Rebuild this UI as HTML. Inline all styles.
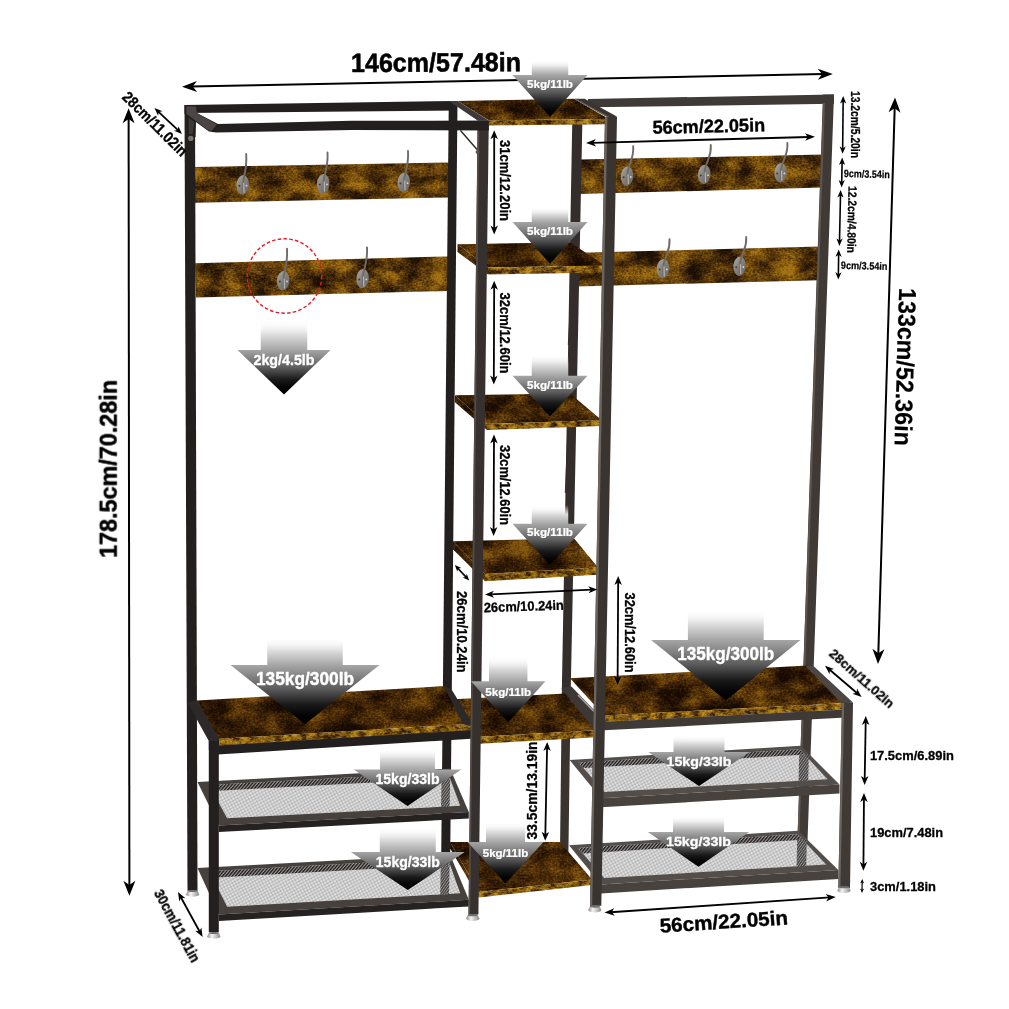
<!DOCTYPE html>
<html lang="en"><head><meta charset="utf-8"><title>Coat rack dimensions</title>
<style>html,body{margin:0;padding:0;background:#fff}svg{display:block}text{font-family:"Liberation Sans", "DejaVu Sans", sans-serif}</style></head><body>
<svg width="1009" height="1009" viewBox="0 0 1009 1009">
<defs>
<filter id="wood" x="0" y="0" width="100%" height="100%" color-interpolation-filters="sRGB"><feTurbulence type="fractalNoise" baseFrequency="0.035 0.06" numOctaves="4" seed="4" result="a0"/><feColorMatrix in="a0" type="matrix" values="1 0 0 0 0  1 0 0 0 0  1 0 0 0 0  0 0 0 0 1" result="a"/><feTurbulence type="fractalNoise" baseFrequency="0.45 0.6" numOctaves="2" seed="9" result="b0"/><feColorMatrix in="b0" type="matrix" values="1 0 0 0 0  1 0 0 0 0  1 0 0 0 0  0 0 0 0 1" result="b"/><feComposite in="a" in2="b" operator="arithmetic" k1="0" k2="1.7" k3="0.85" k4="-0.775" result="g"/><feComponentTransfer in="g" result="c"><feFuncR type="table" tableValues="0.09 0.15 0.22 0.31 0.41 0.52"/><feFuncG type="table" tableValues="0.04 0.075 0.125 0.185 0.26 0.345"/><feFuncB type="table" tableValues="0.01 0.015 0.025 0.035 0.045 0.06"/><feFuncA type="linear" slope="0" intercept="1"/></feComponentTransfer><feComposite in="c" in2="SourceGraphic" operator="in"/></filter>
<filter id="wood2" x="0" y="0" width="100%" height="100%" color-interpolation-filters="sRGB"><feTurbulence type="fractalNoise" baseFrequency="0.03 0.05" numOctaves="4" seed="9" result="a0"/><feColorMatrix in="a0" type="matrix" values="1 0 0 0 0  1 0 0 0 0  1 0 0 0 0  0 0 0 0 1" result="a"/><feTurbulence type="fractalNoise" baseFrequency="0.45 0.6" numOctaves="2" seed="14" result="b0"/><feColorMatrix in="b0" type="matrix" values="1 0 0 0 0  1 0 0 0 0  1 0 0 0 0  0 0 0 0 1" result="b"/><feComposite in="a" in2="b" operator="arithmetic" k1="0" k2="1.7" k3="0.85" k4="-0.775" result="g"/><feComponentTransfer in="g" result="c"><feFuncR type="table" tableValues="0.09 0.15 0.22 0.31 0.41 0.52"/><feFuncG type="table" tableValues="0.04 0.075 0.125 0.185 0.26 0.345"/><feFuncB type="table" tableValues="0.01 0.015 0.025 0.035 0.045 0.06"/><feFuncA type="linear" slope="0" intercept="1"/></feComponentTransfer><feComposite in="c" in2="SourceGraphic" operator="in"/></filter>
<filter id="woodf" x="0" y="0" width="100%" height="100%" color-interpolation-filters="sRGB"><feTurbulence type="fractalNoise" baseFrequency="0.035 0.06" numOctaves="4" seed="14" result="a0"/><feColorMatrix in="a0" type="matrix" values="1 0 0 0 0  1 0 0 0 0  1 0 0 0 0  0 0 0 0 1" result="a"/><feTurbulence type="fractalNoise" baseFrequency="0.45 0.6" numOctaves="2" seed="19" result="b0"/><feColorMatrix in="b0" type="matrix" values="1 0 0 0 0  1 0 0 0 0  1 0 0 0 0  0 0 0 0 1" result="b"/><feComposite in="a" in2="b" operator="arithmetic" k1="0" k2="1.7" k3="0.85" k4="-0.775" result="g"/><feComponentTransfer in="g" result="c"><feFuncR type="table" tableValues="0.11 0.19 0.29 0.40 0.52 0.64"/><feFuncG type="table" tableValues="0.06 0.11 0.18 0.26 0.35 0.45"/><feFuncB type="table" tableValues="0.02 0.03 0.04 0.05 0.06 0.08"/><feFuncA type="linear" slope="0" intercept="1"/></feComponentTransfer><feComposite in="c" in2="SourceGraphic" operator="in"/></filter>
<filter id="woodf2" x="0" y="0" width="100%" height="100%" color-interpolation-filters="sRGB"><feTurbulence type="fractalNoise" baseFrequency="0.04 0.055" numOctaves="4" seed="21" result="a0"/><feColorMatrix in="a0" type="matrix" values="1 0 0 0 0  1 0 0 0 0  1 0 0 0 0  0 0 0 0 1" result="a"/><feTurbulence type="fractalNoise" baseFrequency="0.45 0.6" numOctaves="2" seed="26" result="b0"/><feColorMatrix in="b0" type="matrix" values="1 0 0 0 0  1 0 0 0 0  1 0 0 0 0  0 0 0 0 1" result="b"/><feComposite in="a" in2="b" operator="arithmetic" k1="0" k2="1.7" k3="0.85" k4="-0.775" result="g"/><feComponentTransfer in="g" result="c"><feFuncR type="table" tableValues="0.11 0.19 0.29 0.40 0.52 0.64"/><feFuncG type="table" tableValues="0.06 0.11 0.18 0.26 0.35 0.45"/><feFuncB type="table" tableValues="0.02 0.03 0.04 0.05 0.06 0.08"/><feFuncA type="linear" slope="0" intercept="1"/></feComponentTransfer><feComposite in="c" in2="SourceGraphic" operator="in"/></filter>
<filter id="woode" x="0" y="0" width="100%" height="100%" color-interpolation-filters="sRGB"><feTurbulence type="fractalNoise" baseFrequency="0.12 0.2" numOctaves="4" seed="30" result="a0"/><feColorMatrix in="a0" type="matrix" values="1 0 0 0 0  1 0 0 0 0  1 0 0 0 0  0 0 0 0 1" result="a"/><feTurbulence type="fractalNoise" baseFrequency="0.45 0.6" numOctaves="2" seed="35" result="b0"/><feColorMatrix in="b0" type="matrix" values="1 0 0 0 0  1 0 0 0 0  1 0 0 0 0  0 0 0 0 1" result="b"/><feComposite in="a" in2="b" operator="arithmetic" k1="0" k2="1.7" k3="0.85" k4="-0.775" result="g"/><feComponentTransfer in="g" result="c"><feFuncR type="table" tableValues="0.18 0.30 0.44 0.56 0.66 0.76"/><feFuncG type="table" tableValues="0.10 0.19 0.30 0.40 0.48 0.57"/><feFuncB type="table" tableValues="0.02 0.04 0.06 0.08 0.10 0.13"/><feFuncA type="linear" slope="0" intercept="1"/></feComponentTransfer><feComposite in="c" in2="SourceGraphic" operator="in"/></filter>
<pattern id="mesh" width="3" height="3" patternUnits="userSpaceOnUse" patternTransform="rotate(-28)"><rect width="3" height="3" fill="#dedede"/><path d="M0,0H3M0,0V3" stroke="#949494" stroke-width="0.85"/></pattern>
<pattern id="hatch" width="3.2" height="6" patternUnits="userSpaceOnUse" patternTransform="skewX(-40)"><rect width="3.2" height="6" fill="#9a9896"/><rect width="1.9" height="6" fill="#2a2625"/></pattern>
<pattern id="hatch2" width="2.6" height="6" patternUnits="userSpaceOnUse" patternTransform="skewX(-35)"><rect width="2.6" height="6" fill="#9a9a9a"/><rect width="1.6" height="6" fill="#332f2d"/></pattern>
<linearGradient id="plate" x1="0" y1="0" x2="1" y2="1"><stop offset="0" stop-color="#aeaaa6"/><stop offset="0.5" stop-color="#827e7a"/><stop offset="1" stop-color="#6a6662"/></linearGradient>
<linearGradient id="footg" x1="0" y1="0" x2="1" y2="0"><stop offset="0" stop-color="#8c8c8c"/><stop offset="0.35" stop-color="#f4f4f4"/><stop offset="0.7" stop-color="#bdbdbd"/><stop offset="1" stop-color="#8a8a8a"/></linearGradient>
</defs>
<rect width="1009" height="1009" fill="#fff"/>
<g opacity="0.999">
<polygon points="185.00,105.00 457.00,101.00 457.00,110.50 185.00,113.00" fill="#221f1e" />
<polygon points="588.00,98.90 834.00,94.50 834.00,103.80 588.00,107.30" fill="#403a37" />
<polygon points="570.50,296.00 572.50,296.00 569.80,345.00 567.80,345.00" fill="#403a37" />
<polygon points="567.50,428.00 569.30,428.00 566.60,493.00 564.80,493.00" fill="#403a37" />
<polygon points="194.00,167.00 450.00,162.50 449.00,197.50 195.00,202.80" fill="#6b4715" filter="url(#woodf)"/>
<polygon points="195.00,263.20 448.00,256.40 447.00,291.00 196.00,297.40" fill="#6b4715" filter="url(#woodf2)"/>
<polygon points="580.00,159.60 824.00,154.50 822.50,187.60 579.00,193.90" fill="#6b4715" filter="url(#woodf2)"/>
<polygon points="578.00,252.80 820.50,246.60 819.00,280.20 577.00,286.50" fill="#6b4715" filter="url(#woodf)"/>
<polygon points="572.30,120.00 582.40,120.00 570.80,687.00 561.90,687.00" fill="#332e2c" />
<polygon points="561.90,687.00 570.80,687.00 568.40,852.00 560.00,852.00" fill="#3a3431" />
<polygon points="448.80,101.00 457.50,101.00 450.00,877.00 441.00,877.00" fill="#221f1e" />
<polygon points="823.00,94.50 834.00,94.50 806.40,872.00 796.30,872.00" fill="#403a37" />
<polygon points="823.00,103.00 825.00,103.00 798.20,872.00 796.30,872.00" fill="#5d5651" />
<polygon points="184.50,105.00 195.00,105.00 197.50,890.80 187.50,890.80" fill="#221f1e" />
<path d="M187.60,890.80 L197.60,890.80 L199.20,894.40 A6.60,2.4 0 0 1 186.00,894.40 Z" fill="url(#footg)"/>
<ellipse cx="192.60" cy="891.00" rx="5.00" ry="1.1" fill="#6f6c6a"/>
<polygon points="450.00,842.00 450.00,848.30 478.80,897.50 478.80,892.00" fill="#6b4715" filter="url(#wood2)"/>
<polygon points="450.00,842.00 560.00,842.00 592.00,879.50 478.80,892.00" fill="#6b4715" filter="url(#wood2)"/>
<polygon points="478.80,892.00 592.00,879.50 592.00,885.00 478.80,897.50" fill="#6b4715" filter="url(#woode)"/>
<polygon points="197.50,782.00 450.00,768.50 468.80,812.00 218.80,825.50" fill="#47413e" />
<polygon points="209.30,784.94 447.72,772.18 460.22,805.79 227.12,818.35" fill="url(#mesh)" />
<polygon points="209.30,784.94 447.72,772.18 450.10,778.29 212.52,791.02" fill="url(#hatch)" />
<polygon points="441.60,778.52 450.20,778.52 449.60,806.94 441.00,806.94" fill="url(#hatch2)" opacity="0.9"/>
<polygon points="218.80,825.50 468.80,812.00 468.80,818.60 218.80,832.10" fill="#262221" />
<polygon points="197.50,868.00 450.00,854.50 468.80,899.80 218.80,914.50" fill="#47413e" />
<polygon points="209.30,871.18 447.72,858.33 460.22,893.34 227.12,906.86" fill="url(#mesh)" />
<polygon points="209.30,871.18 447.72,858.33 450.10,864.69 212.52,877.67" fill="url(#hatch)" />
<polygon points="440.80,864.97 449.60,864.97 449.00,894.63 440.20,894.63" fill="url(#hatch2)" opacity="0.9"/>
<polygon points="218.80,914.50 468.80,899.80 468.80,906.40 218.80,921.10" fill="#262221" />
<polygon points="569.60,759.90 800.80,745.80 839.50,784.60 601.00,798.20" fill="#544e4a" />
<polygon points="578.60,762.57 799.72,749.16 827.52,779.14 604.36,791.99" fill="url(#mesh)" />
<polygon points="578.60,762.57 799.72,749.16 804.89,754.60 583.26,767.92" fill="url(#hatch)" />
<polygon points="799.20,754.43 808.80,754.43 808.20,781.09 798.60,781.09" fill="url(#hatch2)" opacity="0.9"/>
<polygon points="601.00,798.20 839.50,784.60 839.50,793.60 601.00,807.20" fill="#48423f" />
<polygon points="569.00,845.20 798.30,830.80 838.30,870.00 601.00,884.40" fill="#544e4a" />
<polygon points="578.00,847.93 797.36,834.20 826.16,864.49 604.23,878.03" fill="url(#mesh)" />
<polygon points="578.00,847.93 797.36,834.20 802.71,839.70 582.74,853.41" fill="url(#hatch)" />
<polygon points="797.20,839.49 806.80,839.49 806.20,866.61 796.60,866.61" fill="url(#hatch2)" opacity="0.9"/>
<polygon points="601.00,884.40 838.30,870.00 838.30,879.00 601.00,893.40" fill="#48423f" />
<polygon points="448.00,699.50 566.00,693.60 597.00,730.20 480.00,736.80" fill="#6b4715" filter="url(#wood)"/>
<polygon points="480.00,736.80 597.00,730.20 597.00,737.20 480.00,743.80" fill="#6b4715" filter="url(#woode)"/>
<polygon points="197.00,700.60 445.00,686.00 471.00,723.80 217.50,739.00" fill="#6b4715" filter="url(#wood2)"/>
<polygon points="217.50,739.00 471.00,723.80 471.00,730.60 217.50,745.80" fill="#6b4715" filter="url(#woode)"/>
<polygon points="217.50,745.50 471.00,730.00 471.00,738.80 217.50,754.50" fill="#221f1e" />
<polygon points="187.50,702.50 197.20,700.20 219.00,738.50 219.00,750.00 208.80,750.00 208.80,741.00" fill="#2d2928" />
<polygon points="443.80,686.00 451.50,689.50 472.00,722.50 470.00,726.00 463.00,724.00" fill="#2d2928" />
<polygon points="208.80,741.00 218.80,741.00 218.80,932.00 208.80,932.00" fill="#221f1e" />
<path d="M208.80,932.80 L218.80,932.80 L220.40,936.40 A6.60,2.4 0 0 1 207.20,936.40 Z" fill="url(#footg)"/>
<ellipse cx="213.80" cy="933.00" rx="5.00" ry="1.1" fill="#6f6c6a"/>
<polygon points="570.00,678.20 808.00,665.50 846.00,703.00 604.00,715.60" fill="#6b4715" filter="url(#wood)"/>
<polygon points="604.00,715.40 846.00,703.00 846.00,709.60 604.00,722.00" fill="#6b4715" filter="url(#woode)"/>
<polygon points="604.00,721.80 846.00,709.40 846.00,717.60 604.00,730.30" fill="#403a37" />
<polygon points="561.30,688.60 571.40,686.40 597.00,713.00 597.00,730.00 592.20,726.60" fill="#3d3835" />
<line x1="578.00" y1="695.00" x2="594.00" y2="711.50" stroke="#a9a39e" stroke-width="1.6"/>
<polygon points="805.50,666.00 813.50,666.00 853.00,702.50 842.00,703.50" fill="#4d4743" />
<polygon points="842.00,702.50 853.00,702.50 850.00,888.00 838.30,888.00" fill="#403a37" />
<polygon points="842.00,703.00 844.20,703.00 840.40,888.00 838.30,888.00" fill="#6b645f" />
<path d="M839.00,887.00 L849.00,887.00 L850.60,890.60 A6.60,2.4 0 0 1 837.40,890.60 Z" fill="url(#footg)"/>
<ellipse cx="844.00" cy="887.20" rx="5.00" ry="1.1" fill="#6f6c6a"/>
<polygon points="457.50,101.00 574.00,98.70 609.00,119.00 488.80,120.30" fill="#6b4715" filter="url(#wood)"/>
<polygon points="488.80,120.30 609.00,119.00 609.00,124.20 488.80,125.50" fill="#6b4715" filter="url(#woode)"/>
<polygon points="457.50,244.20 457.50,252.00 488.00,274.40 488.00,267.40" fill="#6b4715" filter="url(#wood2)"/>
<polygon points="457.50,244.20 570.00,242.30 605.00,265.40 488.00,267.40" fill="#6b4715" filter="url(#wood2)"/>
<polygon points="488.00,267.40 605.00,265.40 605.00,272.40 488.00,274.40" fill="#6b4715" filter="url(#woode)"/>
<polygon points="454.90,395.30 454.90,402.20 487.00,430.10 487.00,424.00" fill="#6b4715" filter="url(#wood)"/>
<polygon points="454.90,395.30 570.00,393.40 601.50,420.00 487.00,424.00" fill="#6b4715" filter="url(#wood)"/>
<polygon points="487.00,424.00 601.50,420.00 601.50,426.10 487.00,430.10" fill="#6b4715" filter="url(#woode)"/>
<polygon points="452.90,541.30 452.90,549.30 485.00,581.20 485.00,574.00" fill="#6b4715" filter="url(#wood2)"/>
<polygon points="452.90,541.30 574.00,538.20 598.00,567.60 485.00,574.00" fill="#6b4715" filter="url(#wood2)"/>
<polygon points="485.00,574.00 598.00,567.60 598.00,574.80 485.00,581.20" fill="#6b4715" filter="url(#woode)"/>
<polygon points="574.70,98.70 584.60,98.70 617.30,116.80 608.40,117.60" fill="#3a3431" />
<line x1="575.30" y1="99.00" x2="608.80" y2="117.40" stroke="#6a625c" stroke-width="1.2"/>
<polygon points="448.80,101.00 457.50,101.00 488.80,120.60 477.60,120.60" fill="#3f3a37" />
<polygon points="477.60,120.60 488.80,120.60 478.40,914.50 468.50,914.50" fill="#36312f" />
<polygon points="477.60,131.00 479.30,131.00 470.20,914.50 468.50,914.50" fill="#534c48" />
<path d="M467.80,915.00 L477.80,915.00 L479.40,918.60 A6.60,2.4 0 0 1 466.20,918.60 Z" fill="url(#footg)"/>
<ellipse cx="472.80" cy="915.20" rx="5.00" ry="1.1" fill="#6f6c6a"/>
<polygon points="605.00,117.00 617.00,117.00 601.30,905.80 590.00,905.80" fill="#3a3431" />
<polygon points="605.00,117.00 607.40,117.00 592.20,905.80 590.00,905.80" fill="#6b645f" />
<path d="M589.80,906.40 L599.80,906.40 L601.40,910.00 A6.60,2.4 0 0 1 588.20,910.00 Z" fill="url(#footg)"/>
<ellipse cx="594.80" cy="906.60" rx="5.00" ry="1.1" fill="#6f6c6a"/>
<polygon points="184.50,105.00 196.00,105.00 196.00,112.50 218.00,124.00 352.00,120.80 488.80,120.60 488.80,130.40 352.00,130.00 216.00,132.60 209.00,131.40 184.50,113.80" fill="#221f1e" />
<polygon points="186.40,106.20 196.00,106.50 196.80,113.00 217.00,124.40 211.50,130.80 208.60,130.40 186.40,114.00" fill="#4b4643" />
<polygon points="186.20,114.00 196.00,121.50 195.60,137.00 187.20,137.00" fill="#221f1e" />
<polygon points="188.60,117.50 194.40,122.00 192.60,134.00 189.00,134.00" fill="#3d3937" />
<circle cx="190.8" cy="138.4" r="2.7" fill="#77736f"/>
<line x1="460.50" y1="130.50" x2="477.00" y2="149.50" stroke="#2c2826" stroke-width="1.4"/>
<circle cx="477.6" cy="152" r="2" fill="#55514e"/>
<ellipse cx="242.80" cy="184.80" rx="6.2" ry="9.7" fill="url(#plate)" transform="rotate(4 242.80 184.80)"/>
<path d="M246.20,154.00 C247.00,166.00 245.80,168.80 243.30,180.80 L243.40,192.30" fill="none" stroke="#6f6b67" stroke-width="1.9" stroke-linecap="round"/>
<path d="M243.80,182.80 L244.00,192.80" stroke="#cfccc9" stroke-width="0.9" fill="none"/>
<circle cx="239.40" cy="185.80" r="1.0" fill="#3f3c3a"/>
<circle cx="246.60" cy="185.60" r="0.9" fill="#d9d7d5"/>
<ellipse cx="323.20" cy="183.60" rx="6.2" ry="9.7" fill="url(#plate)" transform="rotate(4 323.20 183.60)"/>
<path d="M327.50,152.50 C328.30,164.50 326.20,167.60 323.70,179.60 L323.80,191.10" fill="none" stroke="#6f6b67" stroke-width="1.9" stroke-linecap="round"/>
<path d="M324.20,181.60 L324.40,191.60" stroke="#cfccc9" stroke-width="0.9" fill="none"/>
<circle cx="319.80" cy="184.60" r="1.0" fill="#3f3c3a"/>
<circle cx="327.00" cy="184.40" r="0.9" fill="#d9d7d5"/>
<ellipse cx="403.80" cy="182.40" rx="6.2" ry="9.7" fill="url(#plate)" transform="rotate(4 403.80 182.40)"/>
<path d="M408.00,151.00 C408.80,163.00 406.80,166.40 404.30,178.40 L404.40,189.90" fill="none" stroke="#6f6b67" stroke-width="1.9" stroke-linecap="round"/>
<path d="M404.80,180.40 L405.00,190.40" stroke="#cfccc9" stroke-width="0.9" fill="none"/>
<circle cx="400.40" cy="183.40" r="1.0" fill="#3f3c3a"/>
<circle cx="407.60" cy="183.20" r="0.9" fill="#d9d7d5"/>
<ellipse cx="283.20" cy="280.60" rx="6.2" ry="9.7" fill="url(#plate)" transform="rotate(4 283.20 280.60)"/>
<path d="M287.00,248.60 C287.80,260.60 286.20,264.60 283.70,276.60 L283.80,288.10" fill="none" stroke="#6f6b67" stroke-width="1.9" stroke-linecap="round"/>
<path d="M284.20,278.60 L284.40,288.60" stroke="#cfccc9" stroke-width="0.9" fill="none"/>
<circle cx="279.80" cy="281.60" r="1.0" fill="#3f3c3a"/>
<circle cx="287.00" cy="281.40" r="0.9" fill="#d9d7d5"/>
<ellipse cx="362.60" cy="278.60" rx="6.2" ry="9.7" fill="url(#plate)" transform="rotate(4 362.60 278.60)"/>
<path d="M367.00,247.40 C367.80,259.40 365.60,262.60 363.10,274.60 L363.20,286.10" fill="none" stroke="#6f6b67" stroke-width="1.9" stroke-linecap="round"/>
<path d="M363.60,276.60 L363.80,286.60" stroke="#cfccc9" stroke-width="0.9" fill="none"/>
<circle cx="359.20" cy="279.60" r="1.0" fill="#3f3c3a"/>
<circle cx="366.40" cy="279.40" r="0.9" fill="#d9d7d5"/>
<ellipse cx="627.00" cy="176.20" rx="6.2" ry="9.7" fill="url(#plate)" transform="rotate(4 627.00 176.20)"/>
<path d="M633.20,146.20 C634.00,158.20 630.00,160.20 627.50,172.20 L627.60,183.70" fill="none" stroke="#6f6b67" stroke-width="1.9" stroke-linecap="round"/>
<path d="M628.00,174.20 L628.20,184.20" stroke="#cfccc9" stroke-width="0.9" fill="none"/>
<circle cx="623.60" cy="177.20" r="1.0" fill="#3f3c3a"/>
<circle cx="630.80" cy="177.00" r="0.9" fill="#d9d7d5"/>
<ellipse cx="704.20" cy="174.40" rx="6.2" ry="9.7" fill="url(#plate)" transform="rotate(4 704.20 174.40)"/>
<path d="M710.80,145.00 C711.60,157.00 707.20,158.40 704.70,170.40 L704.80,181.90" fill="none" stroke="#6f6b67" stroke-width="1.9" stroke-linecap="round"/>
<path d="M705.20,172.40 L705.40,182.40" stroke="#cfccc9" stroke-width="0.9" fill="none"/>
<circle cx="700.80" cy="175.40" r="1.0" fill="#3f3c3a"/>
<circle cx="708.00" cy="175.20" r="0.9" fill="#d9d7d5"/>
<ellipse cx="780.60" cy="172.60" rx="6.2" ry="9.7" fill="url(#plate)" transform="rotate(4 780.60 172.60)"/>
<path d="M787.40,143.00 C788.20,155.00 783.60,156.60 781.10,168.60 L781.20,180.10" fill="none" stroke="#6f6b67" stroke-width="1.9" stroke-linecap="round"/>
<path d="M781.60,170.60 L781.80,180.60" stroke="#cfccc9" stroke-width="0.9" fill="none"/>
<circle cx="777.20" cy="173.60" r="1.0" fill="#3f3c3a"/>
<circle cx="784.40" cy="173.40" r="0.9" fill="#d9d7d5"/>
<ellipse cx="663.00" cy="268.60" rx="6.2" ry="9.7" fill="url(#plate)" transform="rotate(4 663.00 268.60)"/>
<path d="M669.50,239.20 C670.30,251.20 666.00,252.60 663.50,264.60 L663.60,276.10" fill="none" stroke="#6f6b67" stroke-width="1.9" stroke-linecap="round"/>
<path d="M664.00,266.60 L664.20,276.60" stroke="#cfccc9" stroke-width="0.9" fill="none"/>
<circle cx="659.60" cy="269.60" r="1.0" fill="#3f3c3a"/>
<circle cx="666.80" cy="269.40" r="0.9" fill="#d9d7d5"/>
<ellipse cx="739.60" cy="266.20" rx="6.2" ry="9.7" fill="url(#plate)" transform="rotate(4 739.60 266.20)"/>
<path d="M746.20,237.00 C747.00,249.00 742.60,250.20 740.10,262.20 L740.20,273.70" fill="none" stroke="#6f6b67" stroke-width="1.9" stroke-linecap="round"/>
<path d="M740.60,264.20 L740.80,274.20" stroke="#cfccc9" stroke-width="0.9" fill="none"/>
<circle cx="736.20" cy="267.20" r="1.0" fill="#3f3c3a"/>
<circle cx="743.40" cy="267.00" r="0.9" fill="#d9d7d5"/>
<circle cx="284.5" cy="276" r="37.2" fill="none" stroke="#e0202a" stroke-width="1.4" stroke-dasharray="3.6 2.2"/>
<line x1="191.00" y1="86.62" x2="823.80" y2="74.08" stroke="#000" stroke-width="2.0"/>
<polygon points="832.80,73.90 817.91,79.70 822.00,74.11 817.69,68.70" fill="#000" />
<polygon points="182.00,86.80 196.89,81.00 192.80,86.59 197.11,92.00" fill="#000" />
<linearGradient id="wg160" gradientUnits="userSpaceOnUse" x1="0" y1="60.0" x2="0" y2="117.0"><stop offset="0" stop-color="#fff" stop-opacity="0"/><stop offset="0.132" stop-color="#dcdcdc"/><stop offset="0.263" stop-color="#a6a6a6"/><stop offset="0.558" stop-color="#5c5c5c"/><stop offset="0.749" stop-color="#1a1a1a"/><stop offset="0.889" stop-color="#040404"/><stop offset="1" stop-color="#000"/></linearGradient>
<polygon points="531.75,60.00 568.25,60.00 568.25,75.00 587.50,75.00 550.00,117.00 512.50,75.00 531.75,75.00" fill="url(#wg160)" />
<text x="550.00" y="84.00" font-size="11" font-weight="bold" fill="#fff" text-anchor="middle" dominant-baseline="central" stroke="#fff" stroke-linejoin="round" textLength="46.0" lengthAdjust="spacingAndGlyphs" stroke-width="0.24">5kg/11lb</text>
<linearGradient id="wg163" gradientUnits="userSpaceOnUse" x1="0" y1="207.0" x2="0" y2="263.8"><stop offset="0" stop-color="#fff" stop-opacity="0"/><stop offset="0.132" stop-color="#dcdcdc"/><stop offset="0.264" stop-color="#a6a6a6"/><stop offset="0.558" stop-color="#5c5c5c"/><stop offset="0.750" stop-color="#1a1a1a"/><stop offset="0.890" stop-color="#040404"/><stop offset="1" stop-color="#000"/></linearGradient>
<polygon points="531.75,207.00 568.25,207.00 568.25,222.00 587.50,222.00 550.00,263.80 512.50,222.00 531.75,222.00" fill="url(#wg163)" />
<text x="550.00" y="231.00" font-size="11" font-weight="bold" fill="#fff" text-anchor="middle" dominant-baseline="central" stroke="#fff" stroke-linejoin="round" textLength="46.0" lengthAdjust="spacingAndGlyphs" stroke-width="0.24">5kg/11lb</text>
<linearGradient id="wg166" gradientUnits="userSpaceOnUse" x1="0" y1="354.0" x2="0" y2="416.5"><stop offset="0" stop-color="#fff" stop-opacity="0"/><stop offset="0.174" stop-color="#dcdcdc"/><stop offset="0.349" stop-color="#a6a6a6"/><stop offset="0.609" stop-color="#5c5c5c"/><stop offset="0.779" stop-color="#1a1a1a"/><stop offset="0.902" stop-color="#040404"/><stop offset="1" stop-color="#000"/></linearGradient>
<polygon points="531.75,354.00 568.25,354.00 568.25,375.80 587.50,375.80 550.00,416.50 512.50,375.80 531.75,375.80" fill="url(#wg166)" />
<text x="550.00" y="385.00" font-size="11" font-weight="bold" fill="#fff" text-anchor="middle" dominant-baseline="central" stroke="#fff" stroke-linejoin="round" textLength="46.0" lengthAdjust="spacingAndGlyphs" stroke-width="0.24">5kg/11lb</text>
<linearGradient id="wg169" gradientUnits="userSpaceOnUse" x1="0" y1="505.0" x2="0" y2="565.0"><stop offset="0" stop-color="#fff" stop-opacity="0"/><stop offset="0.157" stop-color="#dcdcdc"/><stop offset="0.313" stop-color="#a6a6a6"/><stop offset="0.588" stop-color="#5c5c5c"/><stop offset="0.767" stop-color="#1a1a1a"/><stop offset="0.897" stop-color="#040404"/><stop offset="1" stop-color="#000"/></linearGradient>
<polygon points="531.75,505.00 568.25,505.00 568.25,523.80 587.50,523.80 550.00,565.00 512.50,523.80 531.75,523.80" fill="url(#wg169)" />
<text x="550.00" y="532.40" font-size="11" font-weight="bold" fill="#fff" text-anchor="middle" dominant-baseline="central" stroke="#fff" stroke-linejoin="round" textLength="46.0" lengthAdjust="spacingAndGlyphs" stroke-width="0.24">5kg/11lb</text>
<linearGradient id="wg172" gradientUnits="userSpaceOnUse" x1="0" y1="656.0" x2="0" y2="722.5"><stop offset="0" stop-color="#fff" stop-opacity="0"/><stop offset="0.189" stop-color="#dcdcdc"/><stop offset="0.379" stop-color="#a6a6a6"/><stop offset="0.627" stop-color="#5c5c5c"/><stop offset="0.789" stop-color="#1a1a1a"/><stop offset="0.907" stop-color="#040404"/><stop offset="1" stop-color="#000"/></linearGradient>
<polygon points="488.95,656.00 527.45,656.00 527.45,681.20 545.45,681.20 508.20,722.50 470.95,681.20 488.95,681.20" fill="url(#wg172)" />
<text x="508.20" y="692.00" font-size="11" font-weight="bold" fill="#fff" text-anchor="middle" dominant-baseline="central" stroke="#fff" stroke-linejoin="round" textLength="46.0" lengthAdjust="spacingAndGlyphs" stroke-width="0.24">5kg/11lb</text>
<linearGradient id="wg175" gradientUnits="userSpaceOnUse" x1="0" y1="822.0" x2="0" y2="883.5"><stop offset="0" stop-color="#fff" stop-opacity="0"/><stop offset="0.163" stop-color="#dcdcdc"/><stop offset="0.325" stop-color="#a6a6a6"/><stop offset="0.595" stop-color="#5c5c5c"/><stop offset="0.771" stop-color="#1a1a1a"/><stop offset="0.899" stop-color="#040404"/><stop offset="1" stop-color="#000"/></linearGradient>
<polygon points="486.00,822.00 525.00,822.00 525.00,842.00 543.50,842.00 505.50,883.50 467.50,842.00 486.00,842.00" fill="url(#wg175)" />
<text x="505.50" y="852.80" font-size="11" font-weight="bold" fill="#fff" text-anchor="middle" dominant-baseline="central" stroke="#fff" stroke-linejoin="round" textLength="45.5" lengthAdjust="spacingAndGlyphs" stroke-width="0.24">5kg/11lb</text>
<linearGradient id="wg178" gradientUnits="userSpaceOnUse" x1="0" y1="320.0" x2="0" y2="394.6"><stop offset="0" stop-color="#fff" stop-opacity="0"/><stop offset="0.201" stop-color="#dcdcdc"/><stop offset="0.402" stop-color="#a6a6a6"/><stop offset="0.641" stop-color="#5c5c5c"/><stop offset="0.797" stop-color="#1a1a1a"/><stop offset="0.910" stop-color="#040404"/><stop offset="1" stop-color="#000"/></linearGradient>
<polygon points="260.75,320.00 307.25,320.00 307.25,350.00 330.50,350.00 284.00,394.60 237.50,350.00 260.75,350.00" fill="url(#wg178)" />
<text x="284.00" y="359.50" font-size="15.5" font-weight="bold" fill="#fff" text-anchor="middle" dominant-baseline="central" stroke="#fff" stroke-linejoin="round" textLength="61.0" lengthAdjust="spacingAndGlyphs" stroke-width="0.34">2kg/4.5lb</text>
<linearGradient id="wg181" gradientUnits="userSpaceOnUse" x1="0" y1="637.0" x2="0" y2="724.2"><stop offset="0" stop-color="#fff" stop-opacity="0"/><stop offset="0.161" stop-color="#dcdcdc"/><stop offset="0.321" stop-color="#a6a6a6"/><stop offset="0.593" stop-color="#5c5c5c"/><stop offset="0.769" stop-color="#1a1a1a"/><stop offset="0.898" stop-color="#040404"/><stop offset="1" stop-color="#000"/></linearGradient>
<polygon points="267.25,637.00 342.75,637.00 342.75,665.00 379.50,665.00 305.00,724.20 230.50,665.00 267.25,665.00" fill="url(#wg181)" />
<text x="305.00" y="678.80" font-size="18.5" font-weight="bold" fill="#fff" text-anchor="middle" dominant-baseline="central" stroke="#fff" stroke-linejoin="round" textLength="98.0" lengthAdjust="spacingAndGlyphs" stroke-width="0.41">135kg/300lb</text>
<linearGradient id="wg184" gradientUnits="userSpaceOnUse" x1="0" y1="609.0" x2="0" y2="700.4"><stop offset="0" stop-color="#fff" stop-opacity="0"/><stop offset="0.170" stop-color="#dcdcdc"/><stop offset="0.339" stop-color="#a6a6a6"/><stop offset="0.604" stop-color="#5c5c5c"/><stop offset="0.775" stop-color="#1a1a1a"/><stop offset="0.901" stop-color="#040404"/><stop offset="1" stop-color="#000"/></linearGradient>
<polygon points="687.90,609.00 763.70,609.00 763.70,640.00 800.55,640.00 725.80,700.40 651.05,640.00 687.90,640.00" fill="url(#wg184)" />
<text x="725.80" y="654.00" font-size="17.5" font-weight="bold" fill="#fff" text-anchor="middle" dominant-baseline="central" stroke="#fff" stroke-linejoin="round" textLength="97.0" lengthAdjust="spacingAndGlyphs" stroke-width="0.38">135kg/300lb</text>
<linearGradient id="wg187" gradientUnits="userSpaceOnUse" x1="0" y1="748.0" x2="0" y2="806.0"><stop offset="0" stop-color="#fff" stop-opacity="0"/><stop offset="0.186" stop-color="#dcdcdc"/><stop offset="0.372" stop-color="#a6a6a6"/><stop offset="0.623" stop-color="#5c5c5c"/><stop offset="0.787" stop-color="#1a1a1a"/><stop offset="0.906" stop-color="#040404"/><stop offset="1" stop-color="#000"/></linearGradient>
<polygon points="380.00,748.00 435.00,748.00 435.00,769.60 461.25,769.60 407.50,806.00 353.75,769.60 380.00,769.60" fill="url(#wg187)" />
<text x="407.50" y="779.00" font-size="14.5" font-weight="bold" fill="#fff" text-anchor="middle" dominant-baseline="central" stroke="#fff" stroke-linejoin="round" textLength="64.0" lengthAdjust="spacingAndGlyphs" stroke-width="0.32">15kg/33lb</text>
<linearGradient id="wg190" gradientUnits="userSpaceOnUse" x1="0" y1="827.0" x2="0" y2="890.0"><stop offset="0" stop-color="#fff" stop-opacity="0"/><stop offset="0.198" stop-color="#dcdcdc"/><stop offset="0.397" stop-color="#a6a6a6"/><stop offset="0.638" stop-color="#5c5c5c"/><stop offset="0.795" stop-color="#1a1a1a"/><stop offset="0.910" stop-color="#040404"/><stop offset="1" stop-color="#000"/></linearGradient>
<polygon points="379.80,827.00 435.80,827.00 435.80,852.00 464.80,852.00 407.80,890.00 350.80,852.00 379.80,852.00" fill="url(#wg190)" />
<text x="407.80" y="862.00" font-size="14.5" font-weight="bold" fill="#fff" text-anchor="middle" dominant-baseline="central" stroke="#fff" stroke-linejoin="round" textLength="64.0" lengthAdjust="spacingAndGlyphs" stroke-width="0.32">15kg/33lb</text>
<linearGradient id="wg193" gradientUnits="userSpaceOnUse" x1="0" y1="735.0" x2="0" y2="786.0"><stop offset="0" stop-color="#fff" stop-opacity="0"/><stop offset="0.167" stop-color="#dcdcdc"/><stop offset="0.333" stop-color="#a6a6a6"/><stop offset="0.600" stop-color="#5c5c5c"/><stop offset="0.773" stop-color="#1a1a1a"/><stop offset="0.900" stop-color="#040404"/><stop offset="1" stop-color="#000"/></linearGradient>
<polygon points="673.50,735.00 724.50,735.00 724.50,752.00 749.75,752.00 699.00,786.00 648.25,752.00 673.50,752.00" fill="url(#wg193)" />
<text x="699.00" y="761.00" font-size="13.5" font-weight="bold" fill="#fff" text-anchor="middle" dominant-baseline="central" stroke="#fff" stroke-linejoin="round" textLength="65.0" lengthAdjust="spacingAndGlyphs" stroke-width="0.30">15kg/33lb</text>
<linearGradient id="wg196" gradientUnits="userSpaceOnUse" x1="0" y1="816.0" x2="0" y2="866.8"><stop offset="0" stop-color="#fff" stop-opacity="0"/><stop offset="0.157" stop-color="#dcdcdc"/><stop offset="0.315" stop-color="#a6a6a6"/><stop offset="0.589" stop-color="#5c5c5c"/><stop offset="0.767" stop-color="#1a1a1a"/><stop offset="0.897" stop-color="#040404"/><stop offset="1" stop-color="#000"/></linearGradient>
<polygon points="673.00,816.00 724.00,816.00 724.00,832.00 749.25,832.00 698.50,866.80 647.75,832.00 673.00,832.00" fill="url(#wg196)" />
<text x="698.50" y="841.00" font-size="13.5" font-weight="bold" fill="#fff" text-anchor="middle" dominant-baseline="central" stroke="#fff" stroke-linejoin="round" textLength="65.0" lengthAdjust="spacingAndGlyphs" stroke-width="0.30">15kg/33lb</text>
<text x="436.00" y="62.60" font-size="26.5" font-weight="bold" fill="#000" text-anchor="middle" dominant-baseline="central" stroke="#000" stroke-linejoin="round" textLength="170.0" lengthAdjust="spacingAndGlyphs" transform="rotate(-0.30 436.00 62.60)" stroke-width="0.58">146cm/57.48in</text>
<line x1="128.61" y1="117.30" x2="129.39" y2="886.80" stroke="#000" stroke-width="2.0"/>
<polygon points="129.40,895.80 123.38,880.81 129.39,885.00 135.38,880.79" fill="#000" />
<polygon points="128.60,108.30 134.62,123.29 128.61,119.10 122.62,123.31" fill="#000" />
<text x="108.70" y="469.00" font-size="23.5" font-weight="bold" fill="#000" text-anchor="middle" dominant-baseline="central" stroke="#000" stroke-linejoin="round" textLength="178.0" lengthAdjust="spacingAndGlyphs" transform="rotate(-90.00 108.70 469.00)" stroke-width="0.52">178.5cm/70.28in</text>
<line x1="894.73" y1="106.50" x2="878.27" y2="655.00" stroke="#000" stroke-width="2.0"/>
<polygon points="878.00,664.00 872.45,648.83 878.32,653.20 884.45,649.19" fill="#000" />
<polygon points="895.00,97.50 900.55,112.67 894.68,108.30 888.55,112.31" fill="#000" />
<text x="905.30" y="367.00" font-size="24.5" font-weight="bold" fill="#000" text-anchor="middle" dominant-baseline="central" stroke="#000" stroke-linejoin="round" textLength="158.0" lengthAdjust="spacingAndGlyphs" transform="rotate(91.70 905.30 367.00)" stroke-width="0.2">133cm/52.36in</text>
<line x1="157.99" y1="111.30" x2="178.51" y2="130.70" stroke="#000" stroke-width="1.8"/>
<polygon points="182.00,134.00 173.95,130.87 177.81,130.04 178.42,126.14" fill="#000" />
<polygon points="154.50,108.00 162.55,111.13 158.69,111.96 158.08,115.86" fill="#000" />
<text x="155.20" y="123.80" font-size="15.5" font-weight="bold" fill="#000" text-anchor="middle" dominant-baseline="central" stroke="#000" stroke-linejoin="round" textLength="84.5" lengthAdjust="spacingAndGlyphs" transform="rotate(44.80 155.20 123.80)" stroke-width="0.34">28cm/11.02in</text>
<line x1="494.20" y1="135.70" x2="494.20" y2="229.00" stroke="#000" stroke-width="1.8"/>
<polygon points="494.20,234.40 490.45,225.40 494.20,227.92 497.95,225.40" fill="#000" />
<polygon points="494.20,130.30 497.95,139.30 494.20,136.78 490.45,139.30" fill="#000" />
<text x="505.20" y="180.50" font-size="14.5" font-weight="bold" fill="#000" text-anchor="middle" dominant-baseline="central" stroke="#000" stroke-linejoin="round" textLength="81.0" lengthAdjust="spacingAndGlyphs" transform="rotate(90.00 505.20 180.50)" stroke-width="0.32">31cm/12.20in</text>
<line x1="494.18" y1="286.20" x2="493.82" y2="379.10" stroke="#000" stroke-width="1.8"/>
<polygon points="493.80,384.50 490.08,375.49 493.82,378.02 497.58,375.51" fill="#000" />
<polygon points="494.20,280.80 497.92,289.81 494.18,287.28 490.42,289.79" fill="#000" />
<text x="505.00" y="333.00" font-size="14.5" font-weight="bold" fill="#000" text-anchor="middle" dominant-baseline="central" stroke="#000" stroke-linejoin="round" textLength="81.0" lengthAdjust="spacingAndGlyphs" transform="rotate(90.00 505.00 333.00)" stroke-width="0.32">32cm/12.60in</text>
<line x1="493.98" y1="439.90" x2="493.62" y2="530.60" stroke="#000" stroke-width="1.8"/>
<polygon points="493.60,536.00 489.89,526.99 493.63,529.52 497.39,527.01" fill="#000" />
<polygon points="494.00,434.50 497.71,443.51 493.97,440.98 490.21,443.49" fill="#000" />
<text x="504.80" y="485.00" font-size="14.5" font-weight="bold" fill="#000" text-anchor="middle" dominant-baseline="central" stroke="#000" stroke-linejoin="round" textLength="80.0" lengthAdjust="spacingAndGlyphs" transform="rotate(90.00 504.80 485.00)" stroke-width="0.32">32cm/12.60in</text>
<line x1="592.00" y1="142.84" x2="809.00" y2="136.96" stroke="#000" stroke-width="1.9"/>
<polygon points="815.00,136.80 805.11,140.82 807.80,136.99 804.90,133.32" fill="#000" />
<polygon points="586.00,143.00 595.89,138.98 593.20,142.81 596.10,146.48" fill="#000" />
<text x="708.80" y="126.00" font-size="18.5" font-weight="bold" fill="#000" text-anchor="middle" dominant-baseline="central" stroke="#000" stroke-linejoin="round" textLength="112.5" lengthAdjust="spacingAndGlyphs" transform="rotate(-1.40 708.80 126.00)" stroke-width="0.41">56cm/22.05in</text>
<line x1="843.15" y1="100.50" x2="842.65" y2="149.30" stroke="#000" stroke-width="1.6"/>
<polygon points="842.60,153.80 839.58,146.27 842.66,148.40 845.78,146.33" fill="#000" />
<polygon points="843.20,96.00 846.22,103.53 843.14,101.40 840.02,103.47" fill="#000" />
<text x="854.60" y="124.50" font-size="12" font-weight="bold" fill="#000" text-anchor="middle" dominant-baseline="central" stroke="#000" stroke-linejoin="round" textLength="67.0" lengthAdjust="spacingAndGlyphs" transform="rotate(90.00 854.60 124.50)" stroke-width="0.26">13.2cm/5.20in</text>
<line x1="842.11" y1="162.00" x2="841.69" y2="183.00" stroke="#000" stroke-width="1.6"/>
<polygon points="841.60,187.50 838.65,179.94 841.71,182.10 844.85,180.06" fill="#000" />
<polygon points="842.20,157.50 845.15,165.06 842.09,162.90 838.95,164.94" fill="#000" />
<text x="866.80" y="173.60" font-size="10.5" font-weight="bold" fill="#000" text-anchor="middle" dominant-baseline="central" stroke="#000" stroke-linejoin="round" textLength="46.0" lengthAdjust="spacingAndGlyphs" transform="rotate(1.50 866.80 173.60)" stroke-width="0.23">9cm/3.54in</text>
<line x1="840.50" y1="194.50" x2="839.50" y2="241.50" stroke="#000" stroke-width="1.6"/>
<polygon points="839.40,246.00 836.46,238.44 839.52,240.60 842.66,238.57" fill="#000" />
<polygon points="840.60,190.00 843.54,197.56 840.48,195.40 837.34,197.43" fill="#000" />
<text x="851.80" y="219.50" font-size="12" font-weight="bold" fill="#000" text-anchor="middle" dominant-baseline="central" stroke="#000" stroke-linejoin="round" textLength="67.0" lengthAdjust="spacingAndGlyphs" transform="rotate(91.00 851.80 219.50)" stroke-width="0.26">12.2cm/4.80in</text>
<line x1="838.64" y1="253.90" x2="838.36" y2="275.10" stroke="#000" stroke-width="1.6"/>
<polygon points="838.30,279.60 835.30,272.06 838.37,274.20 841.50,272.14" fill="#000" />
<polygon points="838.70,249.40 841.70,256.94 838.63,254.80 835.50,256.86" fill="#000" />
<text x="864.20" y="265.40" font-size="10.5" font-weight="bold" fill="#000" text-anchor="middle" dominant-baseline="central" stroke="#000" stroke-linejoin="round" textLength="46.5" lengthAdjust="spacingAndGlyphs" transform="rotate(1.50 864.20 265.40)" stroke-width="0.23">9cm/3.54in</text>
<line x1="457.55" y1="567.96" x2="466.55" y2="577.64" stroke="#000" stroke-width="1.6"/>
<polygon points="469.20,580.50 462.76,577.61 466.02,577.07 466.79,573.87" fill="#000" />
<polygon points="454.90,565.10 461.34,567.99 458.08,568.53 457.31,571.73" fill="#000" />
<text x="462.00" y="631.80" font-size="14" font-weight="bold" fill="#000" text-anchor="middle" dominant-baseline="central" stroke="#000" stroke-linejoin="round" textLength="81.5" lengthAdjust="spacingAndGlyphs" transform="rotate(90.00 462.00 631.80)" stroke-width="0.31">26cm/10.24in</text>
<line x1="490.39" y1="594.35" x2="592.01" y2="589.65" stroke="#000" stroke-width="1.8"/>
<polygon points="597.40,589.40 588.57,593.31 590.93,589.70 588.25,586.32" fill="#000" />
<polygon points="485.00,594.60 493.83,590.69 491.47,594.30 494.15,597.68" fill="#000" />
<text x="523.80" y="606.40" font-size="13.6" font-weight="bold" fill="#000" text-anchor="middle" dominant-baseline="central" stroke="#000" stroke-linejoin="round" textLength="80.0" lengthAdjust="spacingAndGlyphs" transform="rotate(-1.80 523.80 606.40)" stroke-width="0.30">26cm/10.24in</text>
<line x1="618.17" y1="581.40" x2="617.63" y2="679.60" stroke="#000" stroke-width="1.8"/>
<polygon points="617.60,685.00 613.90,675.98 617.64,678.52 621.40,676.02" fill="#000" />
<polygon points="618.20,576.00 621.90,585.02 618.16,582.48 614.40,584.98" fill="#000" />
<text x="630.20" y="632.50" font-size="14" font-weight="bold" fill="#000" text-anchor="middle" dominant-baseline="central" stroke="#000" stroke-linejoin="round" textLength="80.0" lengthAdjust="spacingAndGlyphs" transform="rotate(90.00 630.20 632.50)" stroke-width="0.31">32cm/12.60in</text>
<line x1="547.09" y1="747.40" x2="545.31" y2="835.40" stroke="#000" stroke-width="1.8"/>
<polygon points="545.20,840.80 541.63,831.73 545.33,834.32 549.13,831.88" fill="#000" />
<polygon points="547.20,742.00 550.77,751.07 547.07,748.48 543.27,750.92" fill="#000" />
<text x="532.40" y="790.50" font-size="14" font-weight="bold" fill="#000" text-anchor="middle" dominant-baseline="central" stroke="#000" stroke-linejoin="round" textLength="98.0" lengthAdjust="spacingAndGlyphs" transform="rotate(-90.00 532.40 790.50)" stroke-width="0.31">33.5cm/13.19in</text>
<line x1="829.11" y1="669.30" x2="857.49" y2="693.50" stroke="#000" stroke-width="1.8"/>
<polygon points="861.60,697.00 852.48,693.82 856.67,692.80 857.02,688.50" fill="#000" />
<polygon points="825.00,665.80 834.12,668.98 829.93,670.00 829.58,674.30" fill="#000" />
<text x="862.00" y="678.20" font-size="13.5" font-weight="bold" fill="#000" text-anchor="middle" dominant-baseline="central" stroke="#000" stroke-linejoin="round" textLength="81.5" lengthAdjust="spacingAndGlyphs" transform="rotate(41.50 862.00 678.20)" stroke-width="0.30">28cm/11.02in</text>
<line x1="865.71" y1="721.40" x2="864.69" y2="779.60" stroke="#000" stroke-width="1.8"/>
<polygon points="864.60,785.00 861.01,775.94 864.71,778.52 868.51,776.07" fill="#000" />
<polygon points="865.80,716.00 869.39,725.06 865.69,722.48 861.89,724.93" fill="#000" />
<text x="911.90" y="755.00" font-size="13" font-weight="bold" fill="#000" text-anchor="middle" dominant-baseline="central" stroke="#000" stroke-linejoin="round" textLength="84.0" lengthAdjust="spacingAndGlyphs" stroke-width="0.29">17.5cm/6.89in</text>
<line x1="863.96" y1="798.40" x2="863.44" y2="865.40" stroke="#000" stroke-width="1.8"/>
<polygon points="863.40,870.80 859.72,861.77 863.45,864.32 867.22,861.83" fill="#000" />
<polygon points="864.00,793.00 867.68,802.03 863.95,799.48 860.18,801.97" fill="#000" />
<text x="906.50" y="832.80" font-size="13" font-weight="bold" fill="#000" text-anchor="middle" dominant-baseline="central" stroke="#000" stroke-linejoin="round" textLength="73.0" lengthAdjust="spacingAndGlyphs" stroke-width="0.29">19cm/7.48in</text>
<line x1="862.16" y1="881.70" x2="862.04" y2="890.30" stroke="#000" stroke-width="1.2"/>
<polygon points="862.00,893.00 860.06,888.47 862.05,889.76 864.06,888.53" fill="#000" />
<polygon points="862.20,879.00 864.14,883.53 862.15,882.24 860.14,883.47" fill="#000" />
<text x="903.00" y="886.20" font-size="13" font-weight="bold" fill="#000" text-anchor="middle" dominant-baseline="central" stroke="#000" stroke-linejoin="round" textLength="66.0" lengthAdjust="spacingAndGlyphs" stroke-width="0.29">3cm/1.18in</text>
<line x1="610.49" y1="912.20" x2="829.81" y2="897.40" stroke="#000" stroke-width="1.9"/>
<polygon points="835.80,897.00 826.08,901.41 828.62,897.48 825.57,893.93" fill="#000" />
<polygon points="604.50,912.60 614.22,908.19 611.68,912.12 614.73,915.67" fill="#000" />
<text x="723.80" y="921.50" font-size="20" font-weight="bold" fill="#000" text-anchor="middle" dominant-baseline="central" stroke="#000" stroke-linejoin="round" textLength="128.5" lengthAdjust="spacingAndGlyphs" transform="rotate(-3.70 723.80 921.50)" stroke-width="0.44">56cm/22.05in</text>
<line x1="180.59" y1="896.74" x2="200.01" y2="932.26" stroke="#000" stroke-width="1.8"/>
<polygon points="202.60,937.00 195.21,930.78 199.49,931.31 201.35,927.42" fill="#000" />
<polygon points="178.00,892.00 185.39,898.22 181.11,897.69 179.25,901.58" fill="#000" />
<text x="177.30" y="925.80" font-size="14.5" font-weight="bold" fill="#000" text-anchor="middle" dominant-baseline="central" stroke="#000" stroke-linejoin="round" textLength="80.5" lengthAdjust="spacingAndGlyphs" transform="rotate(61.50 177.30 925.80)" stroke-width="0.32">30cm/11.81in</text>
</g></svg></body></html>
